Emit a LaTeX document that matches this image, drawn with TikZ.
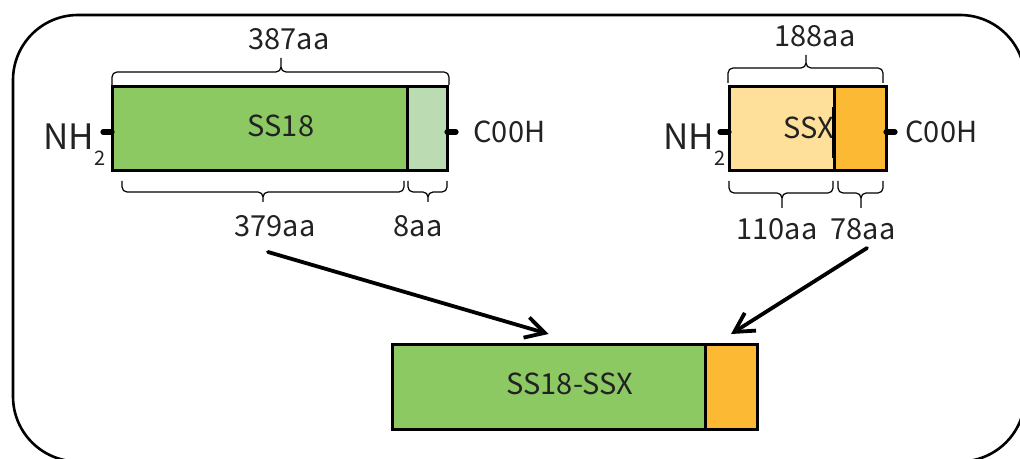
\documentclass[tikz,border=0pt]{standalone}
\usepackage{fontspec}
\setmainfont{Noto Sans CJK JP}
\usepackage{tikz}
\usetikzlibrary{
	positioning,
	arrows.meta
}
\definecolor{ssgreen}{HTML}{8CC963}
\definecolor{sslight}{HTML}{BBDCB3}
\definecolor{sxlight}{HTML}{FEE09A}
\definecolor{sxorange}{HTML}{FBB934}
\definecolor{txt}{HTML}{222222}

\begin{document}
\begin{tikzpicture}[x=0.5pt,y=-0.5pt,
		seg/.style={draw,line width=1.5pt,outer sep=0pt,inner sep=0pt,minimum height=42pt},
		lbl/.style={anchor=base,inner sep=0pt,text=txt,font=\fontsize{14.5}{16}\selectfont},
		nh/.style={anchor=base west,inner sep=0pt,text=txt,font=\fontsize{17.5}{20}\selectfont},
		tick/.style={line width=2.6pt,line cap=round},
		bracket/.style={line width=0.6pt,rounded corners=2.5pt},
		arr/.style={-{Straight Barb[length=9.5pt,width=10.5pt]},line width=1.9pt,line cap=round}
	]
		\useasboundingbox (0,0) rectangle (1020,459);
		\clip (0,0) rectangle (1020,459);
		\draw[line width=1.3pt,rounded corners=32.5pt] (13,15) rectangle (1025,461.5);

		% SS18
		\node[seg,fill=ssgreen,minimum width=147.5pt,anchor=north west] (ss18) at (112,87) {};
		\node[seg,fill=sslight,minimum width=20pt,right=0pt of ss18]     (ss18c) {};
		\node[lbl] (ss18lab) at (281,137) {SS18};
		\draw[tick] ([yshift=-1.5pt]ss18.west) -- ++(-9,0);
		\draw[tick] ([yshift=-1.5pt]ss18c.east) -- ++(9,0);
		\node[nh] (nh1) at (43,150) {NH\raisebox{-8pt}{\fontsize{10}{11}\selectfont 2}};
		\node[lbl,anchor=base west] (co1) at (473,143) {C00H};

		\draw[bracket] (112,85) |- (281,72) -- (281,58) (449,85) |- (281,72) -- (281,58);
		\draw[bracket] (122,181) |- (263,192) -- (263,202) (404,181) |- (263,192) -- (263,202);
		\draw[bracket] (408,181) |- (428,192) -- (428,202) (447,181) |- (428,192) -- (428,202);
		\node[lbl] (len1) at (289,50)  {387aa};
		\node[lbl] (len2) at (275,237) {379aa};
		\node[lbl] (len3) at (418,237) {8aa};

		% SSX
		\node[seg,fill=sxlight,minimum width=52.5pt,anchor=north west] (ssx) at (729,87) {};
		\node[seg,fill=sxorange,minimum width=26pt,right=0pt of ssx]   (ssxc) {};
		\node[lbl] (ssxlab) at (809,139) {SSX};
		\draw[line width=2.2pt] (834,107) -- (834,158);
		\draw[tick] ([yshift=-1.5pt]ssx.west) -- ++(-9,0);
		\draw[tick] ([yshift=-1.5pt]ssxc.east) -- ++(9,0);
		\node[nh] (nh2) at (663,150) {NH\raisebox{-8pt}{\fontsize{10}{11}\selectfont 2}};
		\node[lbl,anchor=base west] (co2) at (905,143) {C00H};

		\draw[bracket] (728,83) |- (806,68) -- (806,55) (883,83) |- (806,68) -- (806,55);
		\draw[bracket] (729,181) |- (782,193) -- (782,208) (833,181) |- (782,193) -- (782,208);
		\draw[bracket] (838,181) |- (861,193) -- (861,208) (883,181) |- (861,193) -- (861,208);
		\node[lbl] (len4) at (815,47)  {188aa};
		\node[lbl] (len5) at (777,240) {110aa};
		\node[lbl] (len6) at (863,240) {78aa};

		% SS18-SSX
		\node[seg,fill=ssgreen,minimum width=156.5pt,minimum height=42.5pt,anchor=north west] (fus) at (392,344) {};
		\node[seg,fill=sxorange,minimum width=26pt,minimum height=42.5pt,right=0pt of fus]    (fusc) {};
		\node[lbl] (fuslab) at (570,394) {SS18-SSX};

		\coordinate (a1) at (268,252);
		\coordinate (a2) at (867,248);
		\draw[arr] (a1) -- ([yshift=5pt]fus.north);
		\draw[arr] (a2) -- ([yshift=5pt]fusc.north);
	\end{tikzpicture}
\end{document}
